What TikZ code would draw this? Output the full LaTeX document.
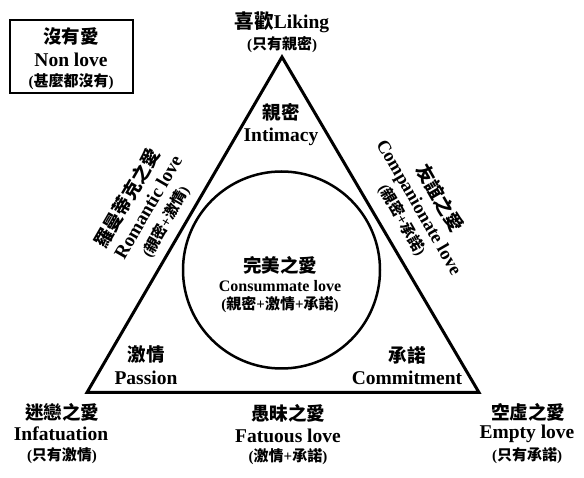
\documentclass[tikz,border=0pt]{standalone}
\usepackage{fontspec}
\setmainfont{Liberation Serif}
\newfontfamily\cjk{Noto Sans CJK TC}
\newcommand{\zh}[1]{{\cjk #1}}
\begin{document}
\begin{tikzpicture}[x=1pt,y=-1pt,
  en/.style={font=\bfseries\fontsize{19.5}{22}\selectfont, inner sep=0pt},
  ens/.style={font=\bfseries\fontsize{16}{18}\selectfont, inner sep=0pt},
  zh/.style={font=\cjk\bfseries\fontsize{18.5}{20}\selectfont, inner sep=0pt},
  zhs/.style={font=\bfseries\fontsize{15}{18}\selectfont, inner sep=0pt},
  thick line/.style={line width=3pt, line join=miter},
]
\useasboundingbox (0,0) rectangle (584,478);
\fill[white] (0,0) rectangle (584,478);

% triangle and circle
\coordinate (top) at (282,57);
\coordinate (bl) at (87,392.5);
\coordinate (br) at (479,392.5);
\draw[thick line] (top) -- (br) -- (bl) -- cycle;
\node[circle, draw, line width=2.5pt, minimum size=197pt, inner sep=0pt] (circ) at (281.5,270) {};

% non love box
\node[draw, line width=2.5pt, minimum width=123pt, minimum height=73pt, inner sep=0pt] (nlbox) at (71.5,56.5) {};
\node[zh] (nl1) at (71,37) {沒有愛};
\node[en] (nl2) at (71,60) {Non love};
\node[zhs] (nl3) at (71,82) {(\zh{甚麼都沒有})};

% Liking
\node[en] (lk1) at (282,22) {\zh{喜歡}Liking};
\node[zhs] (lk2) at (282,45) {(\zh{只有親密})};

% Intimacy
\node[zh] (in1) at (281,112) {親密};
\node[en] (in2) at (281,137) {Intimacy};

% Romantic love
\node[zh, rotate=60] (ro1) at (127,198) {羅曼蒂克之愛};
\node[en, font=\bfseries\fontsize{19}{22}\selectfont, rotate=60] (ro2) at (148,207) {Romantic love};
\node[zhs, rotate=60] (ro3) at (166,222) {(\zh{親密}+\zh{激情})};

% Companionate love
\node[zh, rotate=-60] (co1) at (440,198) {友誼之愛};
\node[en, font=\bfseries\fontsize{18.5}{22}\selectfont, rotate=-60] (co2) at (418,208) {Companionate love};
\node[zhs, rotate=-60] (co3) at (402,220) {(\zh{親密}+\zh{承諾})};

% Consummate love
\node[zh] (cs1) at (280,265) {完美之愛};
\node[ens] (cs2) at (280,286) {Consummate love};
\node[zhs] (cs3) at (280,305) {(\zh{親密}+\zh{激情}+\zh{承諾})};

% Passion
\node[zh] (pa1) at (146,355) {激情};
\node[en] (pa2) at (146,378) {Passion};

% Commitment
\node[zh] (cm1) at (407,355) {承諾};
\node[en] (cm2) at (407,378) {Commitment};

% Infatuation
\node[zh] (if1) at (62,412) {迷戀之愛};
\node[en] (if2) at (61,434) {Infatuation};
\node[zhs] (if3) at (62,456) {(\zh{只有激情})};

% Fatuous love
\node[zh] (fa1) at (288,413) {愚昧之愛};
\node[en] (fa2) at (288,436) {Fatuous love};
\node[zhs] (fa3) at (288,457) {(\zh{激情}+\zh{承諾})};

% Empty love
\node[zh] (em1) at (528,412) {空虛之愛};
\node[en] (em2) at (527,434) {Empty love};
\node[zhs] (em3) at (527,456) {(\zh{只有承諾})};
\end{tikzpicture}
\end{document}
